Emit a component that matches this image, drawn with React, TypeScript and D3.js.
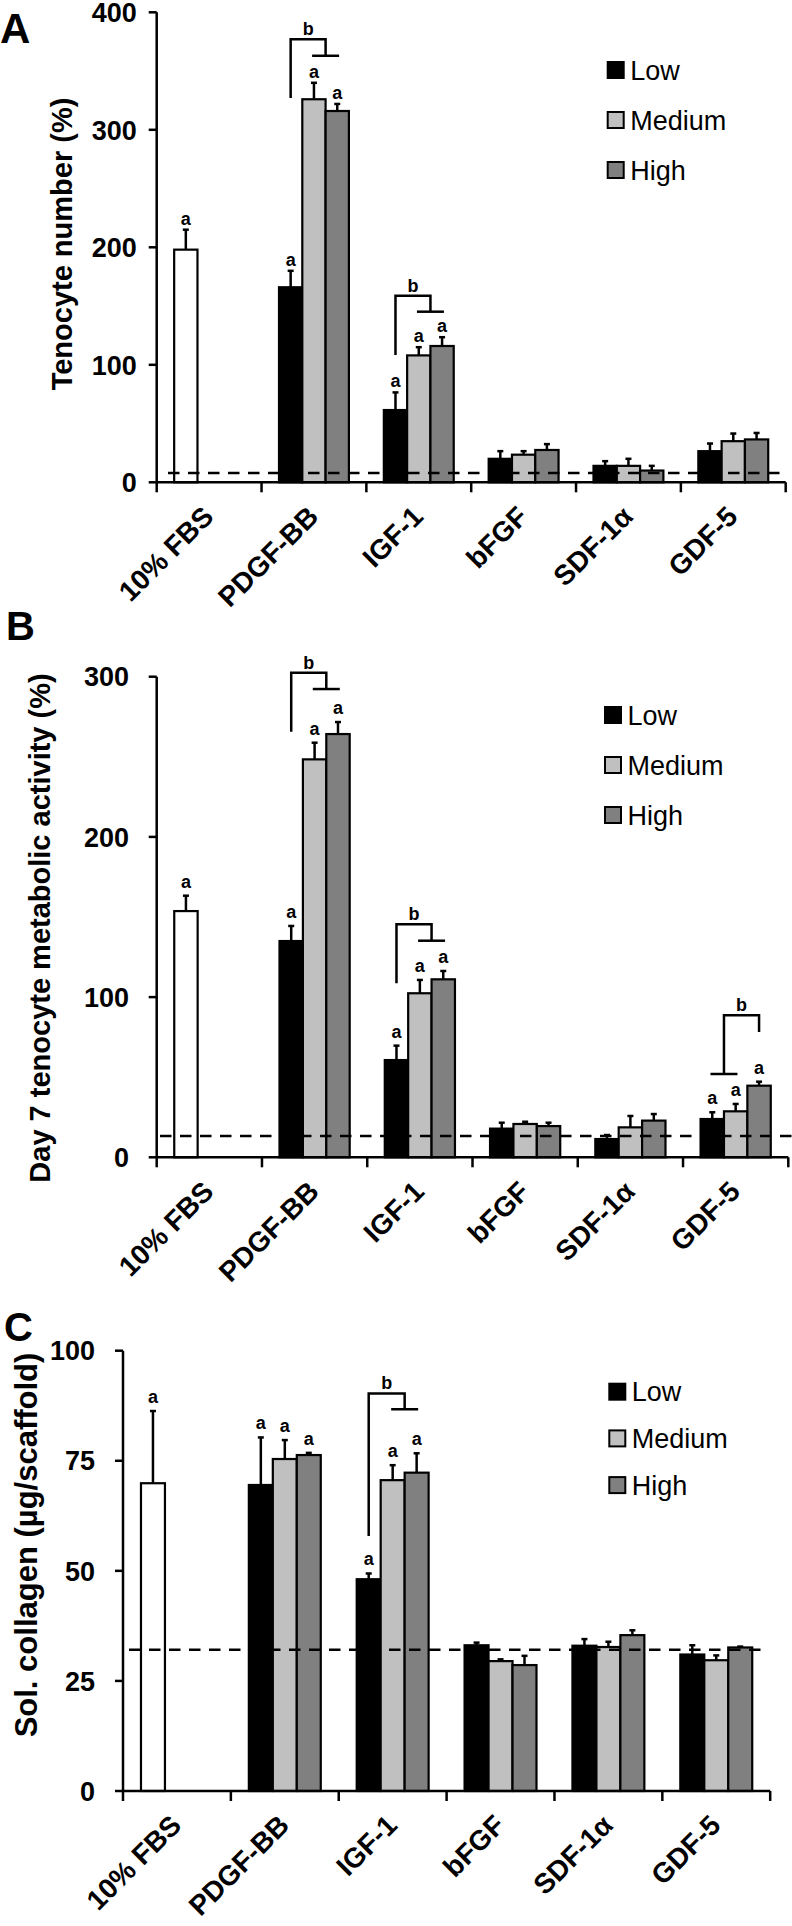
import React from "react";
import * as d3 from "d3";

// ---------- data ----------
const categories = ["10% FBS", "PDGF-BB", "IGF-1", "bFGF", "SDF-1α", "GDF-5"];
const series = ["Low", "Medium", "High"];

// Panel A: Tenocyte number (%)
const fbsA = [198, 17];
const lowA = [166, 61.5, 20, 14, 26.5];
const lowErrA = [14, 15, 6.5, 4, 6.5];
const medA = [326, 108, 23.5, 14, 35];
const medErrA = [14, 7, 3, 6, 6.5];
const highA = [316, 116, 27.5, 10, 36.5];
const highErrA = [6, 7.5, 5, 4, 5.5];
const baselineA = 8;
const ticksA = [0, 100, 200, 300, 400];
const sigA: [number, number][] = [[0, 0], [1, 0], [1, 1], [1, 2], [2, 0], [2, 1], [2, 2]];
const bracketsA = [
  { cat: 1, left: [0], right: [1, 2], top: 377, leftBottom: 327, rightBottom: 363, label: "b" },
  { cat: 2, left: [0], right: [1, 2], top: 158.8, leftBottom: 108.3, rightBottom: 145.2, label: "b" },
];

// Panel B: Day 7 tenocyte metabolic activity (%)
const fbsB = [153.7, 9.6];
const lowB = [135, 60.7, 17.9, 11.4, 23.9];
const lowErrB = [9.4, 9, 3.7, 2.5, 4.2];
const medB = [248.4, 102.4, 20.8, 18.7, 28.7];
const medErrB = [10.4, 8.3, 1.4, 7.1, 4.6];
const highB = [264.2, 111.1, 19.5, 22.9, 44.7];
const highErrB = [7.5, 5.2, 2.1, 4.1, 2.5];
const baselineB = 13.3;
const ticksB = [0, 100, 200, 300];
const sigB: [number, number][] = [[0, 0], [1, 0], [1, 1], [1, 2], [2, 0], [2, 1], [2, 2], [5, 0], [5, 1], [5, 2]];
const bracketsB = [
  { cat: 1, left: [0], right: [1, 2], top: 302.5, leftBottom: 265.7, rightBottom: 292.3, label: "b" },
  { cat: 2, left: [0], right: [1, 2], top: 145.4, leftBottom: 108.6, rightBottom: 135.2, label: "b" },
  { cat: 5, left: [0, 1], right: [2], top: 88.6, leftBottom: 52, rightBottom: 78.2, label: "b" },
];

// Panel C: Sol. collagen (µg/scaffold)
const fbsC = [69.9, 16.4];
const lowC = [69.5, 48.1, 33.1, 33, 31];
const lowErrC = [10.8, 1.3, 0.6, 1.5, 2.1];
const medC = [75.4, 70.6, 29.5, 32.7, 29.7];
const medErrC = [4.3, 3.4, 0.4, 1.2, 1.1];
const highC = [76.3, 72.3, 28.6, 35.4, 32.6];
const highErrC = [0.5, 4.4, 2.1, 1.1, 0.2];
const baselineC = 32.1;
const ticksC = [0, 25, 50, 75, 100];
const sigC: [number, number][] = [[0, 0], [1, 0], [1, 1], [1, 2], [2, 0], [2, 1], [2, 2]];
const bracketsC = [
  { cat: 2, left: [0], right: [1, 2], top: 90.3, leftBottom: 57.9, rightBottom: 86.7, label: "b" },
];

// ---------- styles ----------
const FONT = "'Liberation Sans', Arial, Helvetica, sans-serif";
const fills = ["#000000", "#c0c0c0", "#808080"];

type Panel = {
  letter: string; title: string; fbs: number[]; means: number[][]; errs: number[][];
  baseline: number; ticks: number[]; sig: [number, number][]; brackets: any[];
  layout: any;
};

const panels: Panel[] = [
  {
    letter: "A", title: "Tenocyte number (%)", fbs: fbsA, means: [lowA, medA, highA], errs: [lowErrA, medErrA, highErrA],
    baseline: baselineA, ticks: ticksA, sig: sigA, brackets: bracketsA,
    layout: { top: 12.3, bottom: 482.3, left: 156.7, right: 785.7, tickLabelX: 136.7, titleX: 71.7, titleY: 244, titleSize: 29,
      letterX: 0, letterY: 43, letterSize: 42, legendX: 607.7, legendY: 70, legendStep: 50, aOff: 5, dashStart: 168, dashEnd: 782 },
  },
  {
    letter: "B", title: "Day 7 tenocyte metabolic activity (%)", fbs: fbsB, means: [lowB, medB, highB], errs: [lowErrB, medErrB, highErrB],
    baseline: baselineB, ticks: ticksB, sig: sigB, brackets: bracketsB,
    layout: { top: 676.7, bottom: 1157.3, left: 156.7, right: 788.3, tickLabelX: 129, titleX: 50, titleY: 928, titleSize: 29,
      letterX: 6, letterY: 640, letterSize: 40, legendX: 605, legendY: 715, legendStep: 50, aOff: 8, dashStart: 160, dashEnd: 792 },
  },
  {
    letter: "C", title: "Sol. collagen (µg/scaffold)", fbs: fbsC, means: [lowC, medC, highC], errs: [lowErrC, medErrC, highErrC],
    baseline: baselineC, ticks: ticksC, sig: sigC, brackets: bracketsC,
    layout: { top: 1350.7, bottom: 1791, left: 123, right: 770.2, tickLabelX: 95, titleX: 36.5, titleY: 1545, titleSize: 31,
      letterX: 4, letterY: 1341, letterSize: 40, legendX: 609.3, legendY: 1391.7, legendStep: 46.7, aOff: 8, dashStart: 129, dashEnd: 768 },
  },
];

function PanelChart({ p }: { p: Panel }) {
  const L = p.layout;
  const yMax = p.ticks[p.ticks.length - 1];
  const y = d3.scaleLinear().domain([0, yMax]).range([L.bottom, L.top]);
  const x0 = d3.scaleBand<string>().domain(categories).range([L.left, L.right]).padding(0);
  const x1 = d3.scaleBand<string>().domain(series).range([0, x0.bandwidth()]).paddingInner(0).paddingOuter(0.75);
  const bw = x1.bandwidth();
  const barX = (ci: number, si: number) => (x0(categories[ci]) as number) + (x1(series[si]) as number);
  const center = (ci: number, si: number) => barX(ci, si) + bw / 2;

  type Bar = { ci: number; si: number; v: number; e: number; fill: string };
  const bars: Bar[] = [];
  categories.forEach((c, ci) => {
    if (ci === 0) bars.push({ ci, si: 0, v: p.fbs[0], e: p.fbs[1], fill: "#ffffff" });
    else series.forEach((s, si) => bars.push({ ci, si, v: p.means[si][ci - 1], e: p.errs[si][ci - 1], fill: fills[si] }));
  });
  const findBar = (ci: number, si: number) => bars.find((b) => b.ci === ci && b.si === si)!;

  const boundaries = categories.map((c) => x0(c) as number).concat([L.right]);

  return (
    <g fontFamily={FONT}>
      {/* panel letter */}
      <text x={L.letterX} y={L.letterY} fontSize={L.letterSize} fontWeight="bold">{p.letter}</text>
      {/* y title */}
      <text transform={`translate(${L.titleX},${L.titleY}) rotate(-90)`} textAnchor="middle" fontSize={L.titleSize} fontWeight="bold">{p.title}</text>
      {/* bars */}
      {bars.map((b, i) => (
        <rect key={i} x={barX(b.ci, b.si)} y={y(b.v)} width={bw} height={y(0) - y(b.v)} fill={b.fill} stroke="#000" strokeWidth={2.2} />
      ))}
      {/* baseline dashed */}
      <line x1={L.dashStart} x2={L.dashEnd} y1={y(p.baseline)} y2={y(p.baseline)} stroke="#000" strokeWidth={2.5} strokeDasharray="11.5,8.5" />
      {/* error bars */}
      {bars.map((b, i) => {
        const cx = center(b.ci, b.si);
        return (
          <g key={"e" + i} stroke="#000" strokeWidth={2.5}>
            <line x1={cx} x2={cx} y1={y(b.v)} y2={y(b.v + b.e)} />
            <line x1={cx - 3} x2={cx + 3} y1={y(b.v + b.e)} y2={y(b.v + b.e)} />
          </g>
        );
      })}
      {/* significance "a" */}
      {p.sig.map(([ci, si], i) => {
        const b = findBar(ci, si);
        return (
          <text key={"a" + i} x={center(ci, si)} y={y(b.v + b.e) - L.aOff} textAnchor="middle" fontSize={18} fontWeight="bold">a</text>
        );
      })}
      {/* brackets */}
      {p.brackets.map((br, i) => {
        const mid = (arr: number[]) => d3.mean(arr.map((si) => center(br.cat, si))) as number;
        const lx = mid(br.left);
        const rx = mid(br.right);
        const yt = y(br.top);
        return (
          <g key={"br" + i} stroke="#000" strokeWidth={2.5} fill="none">
            <path d={`M${lx},${y(br.leftBottom)}V${yt}H${rx}V${y(br.rightBottom)}`} />
            {br.left.length > 1 && <line x1={lx - 13.5} x2={lx + 13.5} y1={y(br.leftBottom)} y2={y(br.leftBottom)} />}
            {br.right.length > 1 && <line x1={rx - 13.5} x2={rx + 13.5} y1={y(br.rightBottom)} y2={y(br.rightBottom)} />}
            <text x={(lx + rx) / 2} y={yt - 4} textAnchor="middle" fontSize={18} fontWeight="bold" stroke="none" fill="#000">{br.label}</text>
          </g>
        );
      })}
      {/* axes */}
      <g stroke="#000" strokeWidth={2.5}>
        <line x1={L.left} x2={L.left} y1={y(yMax)} y2={y(0)} />
        <line x1={L.left} x2={L.right} y1={y(0)} y2={y(0)} />
        {p.ticks.map((t) => (
          <line key={"yt" + t} x1={L.left - 8} x2={L.left} y1={y(t)} y2={y(t)} />
        ))}
        {boundaries.map((bx, i) => (
          <line key={"xt" + i} x1={bx} x2={bx} y1={y(0)} y2={y(0) + 10} />
        ))}
      </g>
      {p.ticks.map((t) => (
        <text key={"yl" + t} x={L.tickLabelX} y={y(t)} dy="0.36em" textAnchor="end" fontSize={27} fontWeight="bold">{t}</text>
      ))}
      {categories.map((c) => {
        const cx = (x0(c) as number) + x0.bandwidth() / 2;
        return (
          <text key={"xl" + c} transform={`translate(${cx + 6},${y(0) + 36}) rotate(-45)`} textAnchor="end" fontSize={28} fontWeight="bold">{c}</text>
        );
      })}
      {/* legend */}
      {series.map((s, i) => {
        const cy = L.legendY + i * L.legendStep;
        return (
          <g key={"lg" + s}>
            <rect x={L.legendX} y={cy - 8} width={16} height={16} fill={fills[i]} stroke="#000" strokeWidth={2} />
            <text x={L.legendX + 22.5} y={cy} dy="0.36em" fontSize={27}>{s}</text>
          </g>
        );
      })}
    </g>
  );
}

export default function App() {
  return (
    <svg width={792} height={1926} viewBox="0 0 792 1926" style={{ position: "absolute", left: 0, top: 0, background: "#fff" }}>
      <rect x={0} y={0} width={792} height={1926} fill="#fff" />
      {panels.map((p) => (
        <PanelChart key={p.letter} p={p} />
      ))}
    </svg>
  );
}
